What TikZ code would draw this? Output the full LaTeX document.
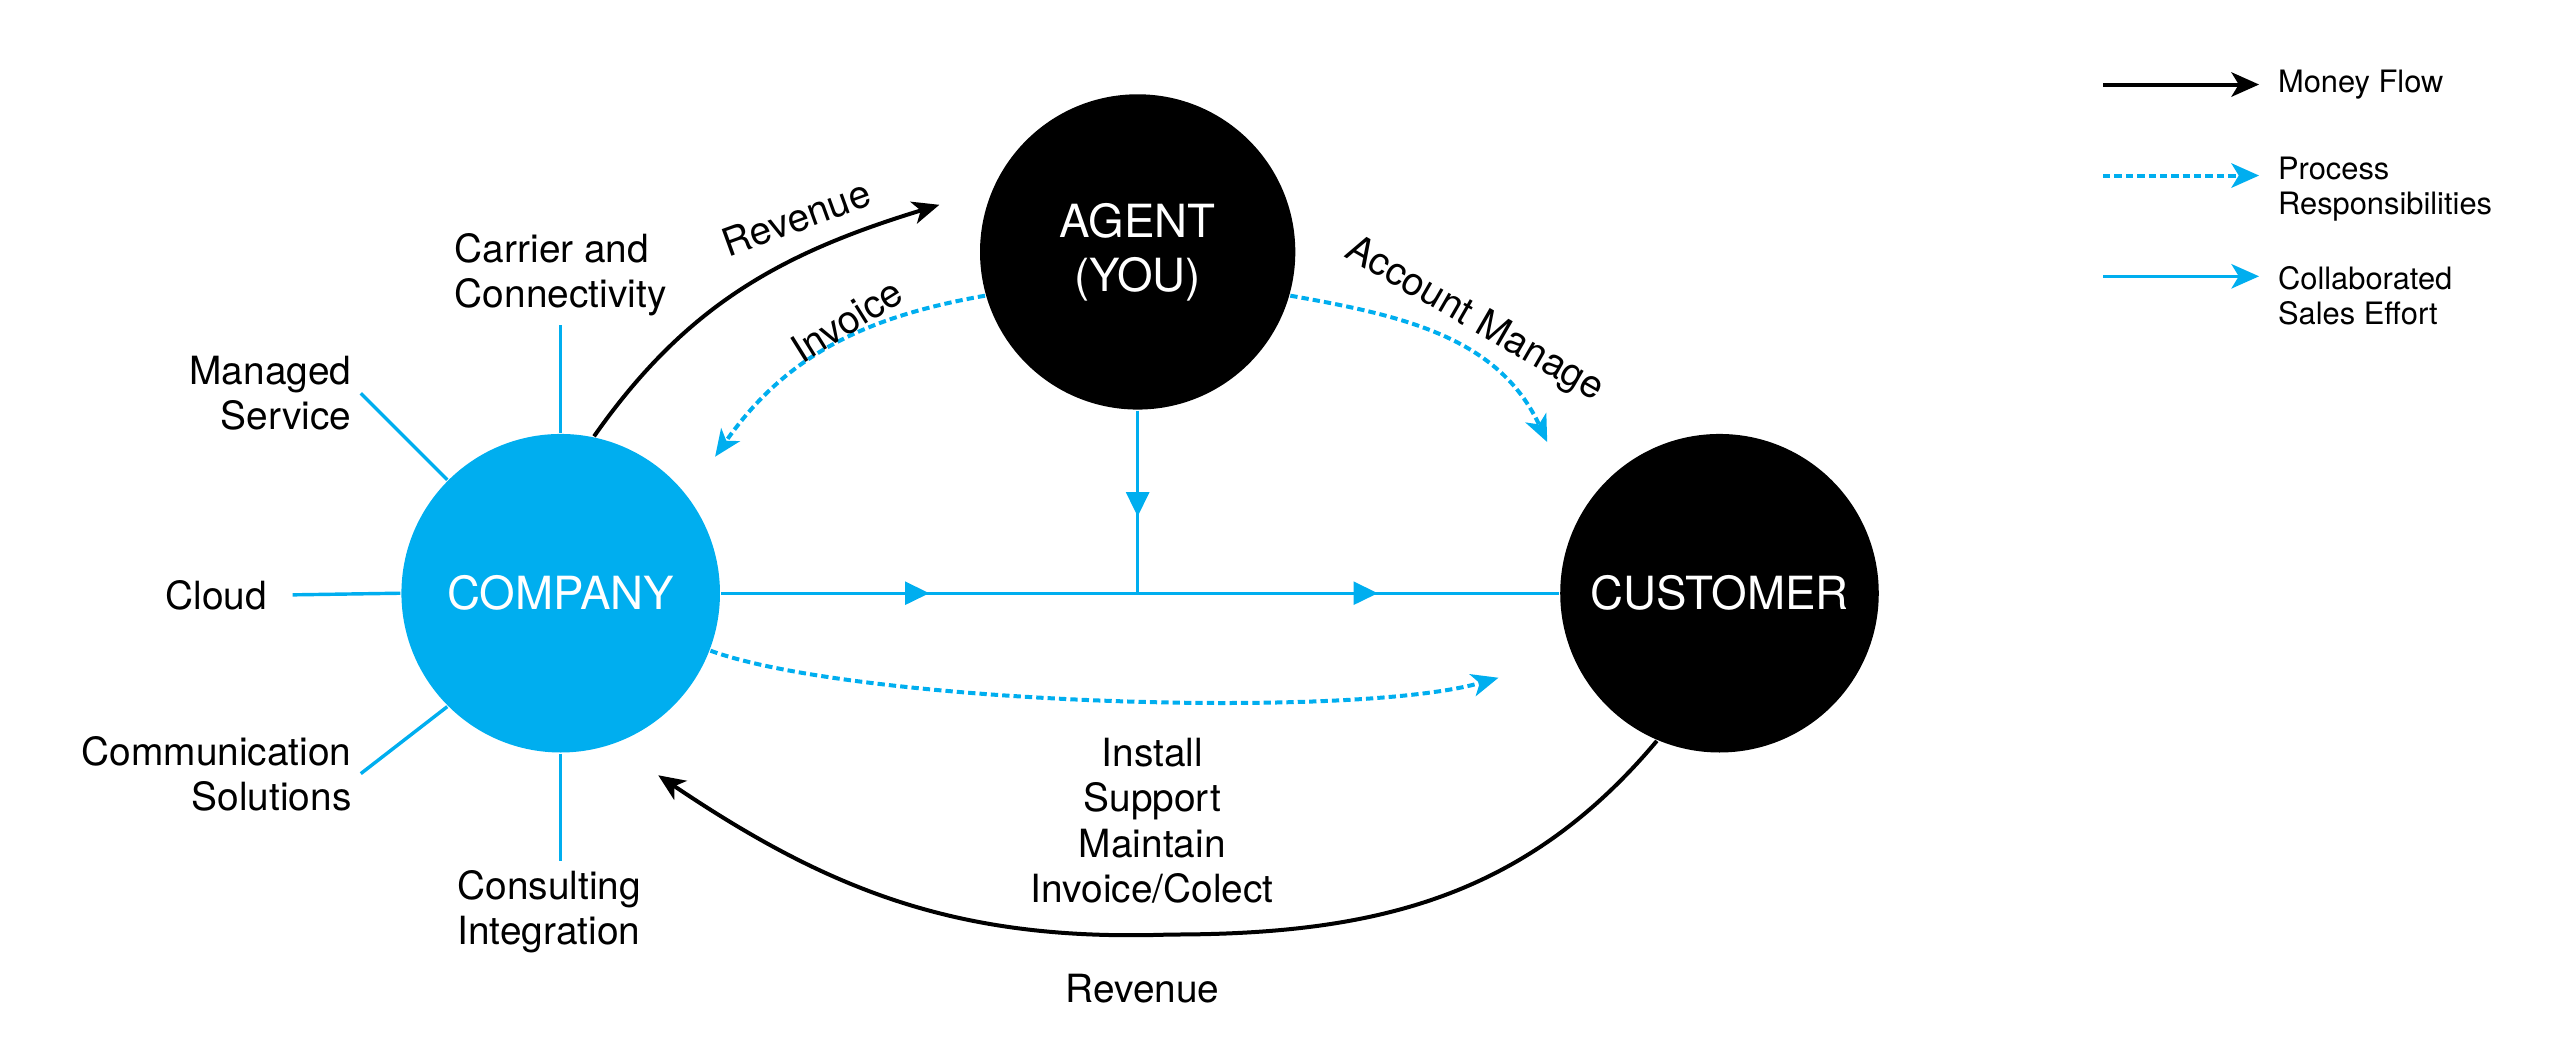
\documentclass[tikz,border=0pt]{standalone}
\usepackage{fontspec}
\setmainfont{TeX Gyre Heros}
\usepackage{color}
\usetikzlibrary{positioning,arrows.meta,decorations.markings}
\definecolor{brandblue}{RGB}{0,174,239}

\begin{document}
\begin{tikzpicture}[
			party/.style={circle, fill=black, text=white, minimum size=19.6mm, inner sep=0pt, align=center, font=\fontsize{8}{9.4}\selectfont},
			note/.style={inner sep=0.5mm, font=\fontsize{6.8}{7.9}\selectfont},
			slanted/.style={note, inner sep=0pt},
			legtext/.style={inner sep=0.5mm, align=left, font=\fontsize{5.4}{6.1}\selectfont},
			spoke/.style={draw=brandblue, line width=0.6pt},
			collab/.style={draw=brandblue, line width=0.6pt},
			money/.style={draw=black, line width=0.7pt, -{Stealth[length=1.65mm, width=1.4mm, inset=0.45mm]}},
			process/.style={draw=brandblue, line width=0.7pt, dash pattern=on 0.45mm off 0.25mm, -{Stealth[length=1.65mm, width=1.4mm, inset=0.45mm]}},
			bigtip/.style={-{Stealth[length=1.7mm, width=1.5mm, inset=0.45mm]}},
			midarrow/.style={postaction={decorate, decoration={markings, mark=at position #1 with {\arrow{Triangle[length=1.5mm, width=1.4mm]}}}}}
		]
		\useasboundingbox (0,0) rectangle (15.69,-6.40);
		\node[party, fill=brandblue] (company) at (3.45,-3.65) {COMPANY};
		\node[party, minimum size=19.4mm] (agent) at (7.00,-1.55) {AGENT\\(YOU)};
		\node[party] (customer) at (10.58,-3.65) {CUSTOMER};
		\node[note, anchor=south, align=left] (carrier) at (3.45,-2.00) {Carrier and\\Connectivity};
		\node[note, anchor=east, align=right] (managed) at (2.22,-2.42) {Managed\\Service};
		\node[note, anchor=east, inner sep=1.5mm] (cloud) at (1.80,-3.66) {Cloud};
		\node[note, anchor=east, align=right] (commsol) at (2.22,-4.76) {Communication\\Solutions};
		\node[note, anchor=north, align=left] (consult) at (3.38,-5.30) {Consulting\\Integration};
		\draw[spoke] (company.north) -- (carrier.south);
		\draw[spoke] (company.135) -- (managed.east);
		\draw[spoke] (company.west) -- (cloud.east);
		\draw[spoke] (company.225) -- (commsol.east);
		\draw[spoke] (company.south) -- (company.south |- consult.north);
		\coordinate (join) at (agent.south |- company.east);
		\draw[collab, midarrow=0.5] (company.east) -- (join);
		\draw[collab, midarrow=0.57] (join) -- (customer.west);
		\draw[collab, midarrow=0.58] (agent.south) -- (join);
		\coordinate (revtip) at (5.78,-1.26);
		\coordinate (invtip) at (4.40,-2.81);
		\coordinate (acctip) at (9.52,-2.72);
		\coordinate (insttip) at (9.22,-4.17);
		\coordinate (paylow) at (7.20,-5.75);
		\coordinate (paytip) at (4.05,-4.77);
		\draw[money] (company.78) to[out=55, in=197] (revtip);
		\draw[process] (agent.196) to[out=190, in=55] (invtip);
		\draw[process] (agent.-16) to[out=-10, in=115] (acctip);
		\draw[process] (company.-21) to[out=-20, in=196, looseness=0.5] (insttip);
		\draw[money] (customer.247) to[out=230, in=0] (paylow) to[out=182, in=-34] (paytip);
		\node[slanted, rotate=20] (revtop) at (4.90,-1.34) {Revenue};
		\node[slanted, rotate=32] (invoice) at (5.21,-1.97) {Invoice};
		\node[slanted, rotate=-30] (accmanage) at (9.07,-1.97) {Account Manage};
		\node[note, align=center] (tasks) at (7.09,-5.05) {Install\\Support\\Maintain\\Invoice/Colect};
		\node[note] (revbot) at (7.03,-6.08) {Revenue};
		\coordinate (m0) at (12.94,-0.52);
		\coordinate[right=9.6mm of m0] (m1);
		\node[legtext, right=0.6mm of m1] (moneyleg) {Money Flow};
		\coordinate (p0) at (12.94,-1.08);
		\coordinate[right=9.6mm of p0] (p1);
		\node[legtext, right=0.6mm of p1, yshift=-0.85mm] (procleg) {Process\\Responsibilities};
		\coordinate (c0) at (12.94,-1.70);
		\coordinate[right=9.6mm of c0] (c1);
		\node[legtext, right=0.6mm of c1, yshift=-1.2mm] (collableg) {Collaborated\\Sales Effort};
		\draw[money, bigtip] (m0) -- (m1);
		\draw[process, bigtip] (p0) -- (p1);
		\draw[collab, bigtip] (c0) -- (c1);
		\end{tikzpicture}
\end{document}
